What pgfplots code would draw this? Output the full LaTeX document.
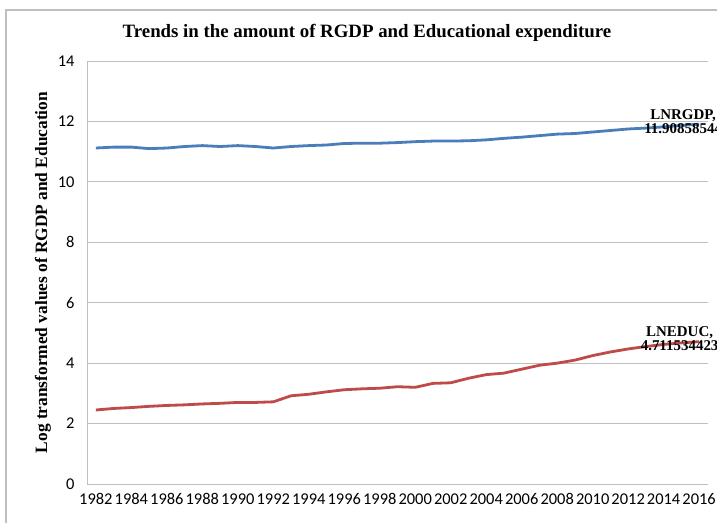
\documentclass[border=0pt]{standalone}
\usepackage{pgfplots}
\pgfplotsset{compat=1.18}
\usepackage{fontspec}
\setmainfont{Liberation Serif}
\newfontfamily\calibri{Carlito}
\definecolor{xblue}{HTML}{4A7EBB}
\definecolor{xred}{HTML}{BE4B48}
\definecolor{gridgray}{HTML}{BFBFBF}
\pgfplotstableread{
year gdp educ
1982 11.12 2.45
1983 11.15 2.50
1984 11.15 2.53
1985 11.10 2.57
1986 11.12 2.60
1987 11.17 2.62
1988 11.20 2.65
1989 11.17 2.67
1990 11.20 2.70
1991 11.17 2.70
1992 11.12 2.72
1993 11.17 2.92
1994 11.20 2.97
1995 11.22 3.05
1996 11.27 3.12
1997 11.28 3.15
1998 11.28 3.17
1999 11.30 3.22
2000 11.33 3.20
2001 11.35 3.33
2002 11.35 3.35
2003 11.36 3.50
2004 11.39 3.62
2005 11.44 3.67
2006 11.48 3.80
2007 11.53 3.93
2008 11.58 4.00
2009 11.60 4.10
2010 11.65 4.25
2011 11.70 4.37
2012 11.75 4.47
2013 11.78 4.55
2014 11.82 4.62
2015 11.87 4.67
2016 11.908585 4.711534
}\data
\begin{document}
\begin{tikzpicture}
\useasboundingbox (0bp,0bp) rectangle (717bp,-523bp);
\draw[gridgray, line width=1.2bp] (6bp,-530bp) -- (6bp,-10bp) -- (730bp,-10bp);
\node[font=\bfseries\fontsize{18.9}{22}\selectfont] at (367bp,-33bp) {Trends in the amount of RGDP and Educational expenditure};
\begin{axis}[
  at={(87bp,-484bp)}, anchor=south west,
  scale only axis, width=621bp, height=423bp,
  xmin=1981.5, xmax=2016.5, ymin=0, ymax=14,
  xtick={1982,1984,...,2016},
  ytick={0,2,...,14},
  axis x line=bottom, axis y line=left,
  axis line style={gridgray, line width=1bp, -},
  major tick length=0pt,
  ymajorgrids, grid style={gridgray, line width=1bp},
  tick label style={font=\calibri\fontsize{16.5}{20}\selectfont, black},
  /pgf/number format/assume math mode=true,
  xticklabel style={/pgf/number format/1000 sep={}, yshift=-6bp},
  yticklabel style={xshift=-9bp},
  ylabel={Log transformed values of RGDP and Education},
  ylabel style={font=\bfseries\fontsize{17.4}{20}\selectfont, at={(axis description cs:0,0.5)}, anchor=center, yshift=44bp},
  clip=false,
]
\addplot[xblue, line width=2.8bp, no marks] table[x=year,y=gdp] {\data}
  node[pos=1, xshift=-16bp, yshift=2.5bp, align=center, black, font=\bfseries\fontsize{15}{13.5}\selectfont] {LNRGDP,\\11.90858544};
\addplot[xred, line width=2.8bp, no marks] table[x=year,y=educ] {\data}
  node[pos=1, xshift=-19.5bp, yshift=3bp, align=center, black, font=\bfseries\fontsize{15}{13.5}\selectfont] {LNEDUC,\\4.711534423};
\end{axis}
\end{tikzpicture}
\end{document}
